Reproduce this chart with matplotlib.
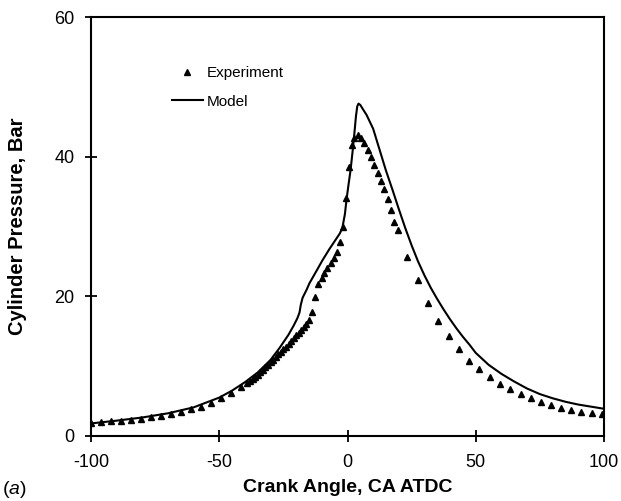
import matplotlib
matplotlib.use("Agg")
import matplotlib.pyplot as plt

plt.rcParams['font.family'] = ['Liberation Sans', 'DejaVu Sans']
plt.rcParams['mathtext.fontset'] = 'custom'
plt.rcParams['mathtext.it'] = 'Liberation Sans:italic'
plt.rcParams['mathtext.rm'] = 'Liberation Sans'
plt.rcParams['axes.unicode_minus'] = False

# Experiment data (crank angle, pressure)
exp_angle = [-100, -96.1, -92.2, -88.3, -84.4, -80.5, -76.6, -72.7, -68.8, -64.9,
             -61.0, -57.1, -53.2, -49.3, -45.4, -41.5, -39, -38, -37, -36, -35,
             -34, -33, -32, -31, -30, -29, -28, -27, -26, -25, -24, -23, -22, -21,
             -20, -19, -18, -17, -16, -15, -14, -12.8, -11.5, -10.1, -9.0, -7.8,
             -6.5, -5.2, -3.9, -3.0, -1.9, -0.4, 0.4, 1.6, 2.7, 3.9, 5.4, 6.6, 7.8,
             9.3, 10.5, 11.7, 13.2, 14.4, 15.6, 17.0, 18.3, 19.5, 23.3, 27.6, 31.5,
             35.4, 39.7, 43.6, 47.5, 51.4, 55.6, 59.5, 63.4, 67.7, 71.6, 75.5, 79.4,
             83.3, 87.2, 91.1, 95.3, 99.2]
exp_pressure = [1.8, 1.95, 2.1, 2.2, 2.35, 2.45, 2.65, 2.9, 3.2, 3.45,
                3.8, 4.2, 4.7, 5.4, 6.2, 7.0, 7.6, 7.9, 8.2, 8.5, 8.8,
                9.2, 9.5, 9.9, 10.2, 10.6, 10.9, 11.3, 11.7, 12.0, 12.4, 12.8, 13.2, 13.6, 14.0,
                14.4, 14.8, 15.2, 15.6, 16.0, 16.6, 17.8, 19.9, 21.7, 22.6, 23.4, 24.1,
                24.8, 25.5, 26.4, 27.8, 29.9, 34.1, 38.5, 41.7, 42.7, 43.1, 42.7, 42.0, 41.0,
                40.0, 38.8, 37.7, 36.5, 35.3, 34.0, 32.3, 30.7, 29.5, 25.6, 22.3, 19.1,
                16.5, 14.3, 12.5, 10.8, 9.6, 8.5, 7.4, 6.7, 6.0, 5.5, 4.9, 4.4,
                4.0, 3.7, 3.4, 3.3, 3.2]

# Model curve
model_angle = [-100, -90, -80, -70, -60, -50, -45, -40, -35, -30, -26.5, -23, -21,
               -19.5, -18.7, -18.2, -17.5, -16, -14.8, -12, -9.7, -7, -5, -3, -2,
               -1, -0.4, 0.4, 1.2, 2.0, 2.7, 3.3, 3.8, 4.3, 5.0, 6.0, 7.4, 10, 12.5,
               15, 17.5, 20, 22.5, 25, 27.5, 30, 32.5, 35, 37.5, 40, 42.5, 45, 47.5,
               50, 55, 60, 65, 70, 75, 80, 85, 90, 95, 100]
model_pressure = [1.8, 2.2, 2.65, 3.25, 4.1, 5.5, 6.5, 7.7, 9.1, 10.9, 12.6, 14.5, 15.8,
                  16.9, 17.7, 18.8, 19.8, 20.9, 21.9, 23.7, 25.2, 26.8, 27.9, 29.0, 29.8,
                  31.8, 33.8, 36.0, 38.1, 40.8, 43.4, 45.8, 47.2, 47.6, 47.4, 46.8, 46.0, 44.0, 41.0,
                  38.0, 35.3, 32.5, 29.8, 27.3, 25.0, 23.0, 21.2, 19.6, 18.1, 16.7, 15.4, 14.2, 13.1,
                  11.9, 10.2, 8.9, 7.8, 6.8, 6.0, 5.4, 4.9, 4.5, 4.2, 3.9]

x_ticks = [-100, -50, 0, 50, 100]
y_ticks = [0, 20, 40, 60]

fig = plt.figure(figsize=(6.21, 5.01), dpi=100)
ax = fig.add_axes([91/621, 1-436/501, (604-91)/621, (436-17)/501])

ax.plot(exp_angle, exp_pressure, linestyle='none', marker='^', color='black',
        markersize=5, label='Experiment')
ax.plot(model_angle, model_pressure, color='black', linewidth=1.5, label='Model')

ax.set_xlim(-100, 100)
ax.set_ylim(0, 60)
ax.set_xticks(x_ticks)
ax.set_yticks(y_ticks)
ax.tick_params(direction='inout', length=9, width=1.3, labelsize=13)
ax.tick_params(axis='x', pad=8.5)
ax.tick_params(axis='y', pad=7.5)
for s in ax.spines.values():
    s.set_linewidth(1.5)
    s.set_color('black')

ax.set_xlabel('Crank Angle, CA ATDC', fontsize=14, fontweight='bold', labelpad=6)
ax.set_ylabel('Cylinder Pressure, Bar', fontsize=14.5, fontweight='bold')
ax.yaxis.set_label_coords(-0.125, 0.5)

leg = ax.legend(loc='upper left', bbox_to_anchor=(172/621, 1-66/501),
                bbox_transform=fig.transFigure, frameon=False, fontsize=11,
                handlelength=2.0, handletextpad=0.3, labelspacing=0.95,
                borderpad=0, borderaxespad=0)

fig.text(2/621, 1-490/501, r'($\it{a}$)', fontsize=14, va='center', ha='left')

fig.savefig('out.png', dpi=100)
